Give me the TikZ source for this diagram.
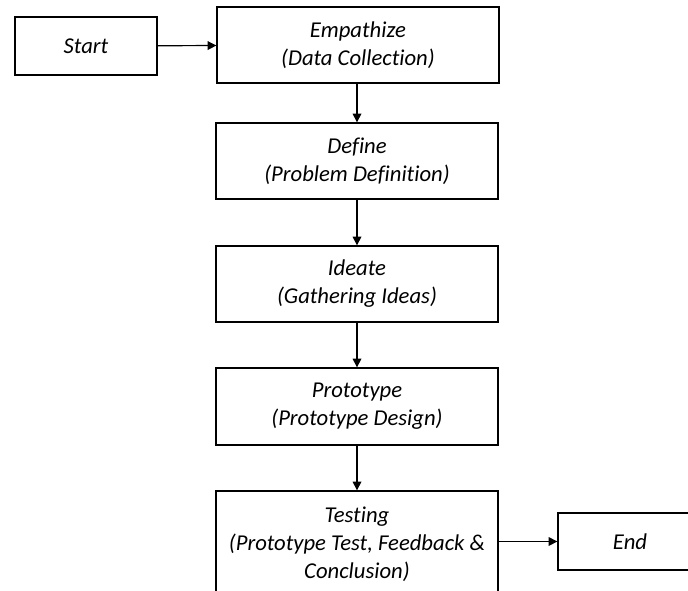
\documentclass[tikz,border=0pt]{standalone}
\usepackage{fontspec}
\setmainfont[Ligatures=NoCommon]{Carlito}
\usetikzlibrary{arrows.meta}
\begin{document}
\begin{tikzpicture}[x=0.75pt,y=-0.75pt,
  box/.style={draw=black, line width=1pt, minimum width=282*0.75pt, minimum height=76*0.75pt,
    inner sep=0pt, align=center, font=\fontsize{17}{21}\selectfont\itshape},
  smallbox/.style={box, minimum width=142*0.75pt, minimum height=58*0.75pt},
  conn/.style={line width=0.9pt, -{Triangle[length=6.5pt,width=6.5pt]}}]
\useasboundingbox (0,0) rectangle (688,590);
\clip (0,0) rectangle (688,590);
\node[smallbox] (start) at (86,46) {Start};
\node[box] (emp) at (358,45) {Empathize\\(Data Collection)};
\node[box] (def) at (357,161) {Define\\(Problem Definition)};
\node[box] (ide) at (357,284) {Ideate\\(Gathering Ideas)};
\node[box, minimum height=77*0.75pt] (pro) at (357,406.5) {Prototype\\(Prototype Design)};
\node[box, minimum height=106*0.75pt] (tes) at (357,544) {Testing\\(Prototype Test, Feedback \&\\Conclusion)};
\node[smallbox, minimum width=144*0.75pt, minimum height=57*0.75pt] (end) at (630,541.5) {End};
\draw[conn] (start) -- (emp);
\draw[conn] (emp.south -| def.north) -- (def);
\draw[conn] (def) -- (ide);
\draw[conn] (ide) -- (pro);
\draw[conn] (pro) -- (tes);
\draw[conn] (tes.east |- end.west) -- (end);
\end{tikzpicture}
\end{document}
